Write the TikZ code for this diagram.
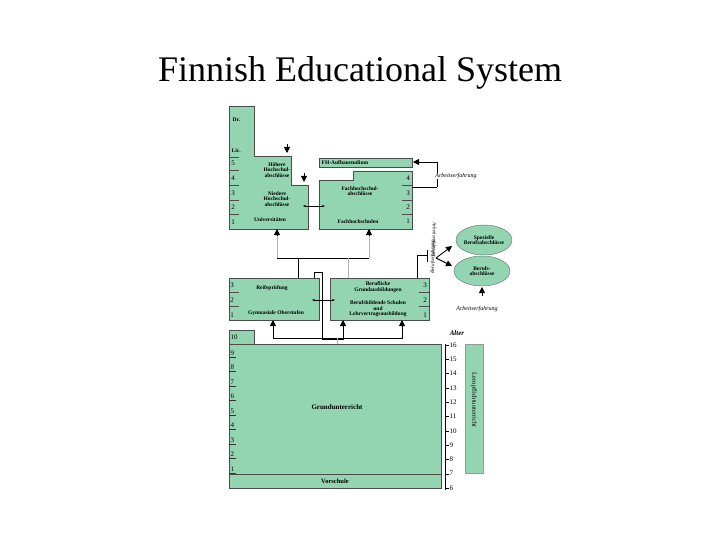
\documentclass[tikz,border=0pt]{standalone}
\usepackage{fontspec}
\setmainfont{Liberation Serif}
\usetikzlibrary{arrows.meta,shapes.geometric}
\definecolor{fin}{HTML}{93D5B0}
\begin{document}
\begin{tikzpicture}[x=1pt,y=-1pt,
  blk/.style={draw=black!70,fill=fin,line width=0.6pt},
  lbl/.style={font=\fontsize{5.5}{5.5}\selectfont\bfseries,align=center,inner sep=0.5pt},
  num/.style={font=\fontsize{7}{7}\selectfont,inner sep=0.5pt},
  itl/.style={font=\fontsize{6}{6}\selectfont\itshape,inner sep=0.5pt},
  ln/.style={line width=0.9pt},
  gl/.style={gray!60,line width=0.6pt},
  tip/.style={-{Triangle[length=6pt,width=6pt]},line width=0.9pt},
  dtip/.style={{Stealth[length=3pt]}-{Stealth[length=3pt]},line width=0.7pt}]
\useasboundingbox (0,0) rectangle (720,540);
\node (title) at (360,73) {\fontsize{36}{36}\selectfont Finnish Educational System};
% Universities
\draw[blk] (229,106)--(254,106)--(254,156)--(291,156)--(291,185)--(308,185)--(308,229)--(229,229)--cycle;
\node[lbl,anchor=west] (dr) at (232,120) {Dr.};
\node[lbl,anchor=west] (lic) at (231,151) {Lic.};
\foreach \n/\y in {5/163,4/178,3/193,2/207,1/222}{\node[num] at (233,\y) {\n};}
\foreach \y in {157,170,185,200,214}{\draw[black!70] (229,\y)--(239,\y);}
\node[lbl] (hoh) at (277,170) {Höhere\\Hochschul-\\abschlüsse};
\node[lbl] (nie) at (277,199) {Niedere\\Hochschul-\\abschlüsse};
\node[lbl] (uni) at (270,220) {Universitäten};
\node[lbl] (ta1) at (287,153) {}; \node[lbl] (ta2) at (304,182) {};
\draw[tip] (287,144)--(ta1.center);
\draw[tip] (304,173)--(ta2.center);
% FH
\draw[blk] (319,158) rectangle (412,167);
\node[lbl,anchor=west] (fha) at (321,162.5) {FH-Aufbaustudium};
\draw[blk] (319,180)--(353,180)--(353,171)--(412,171)--(412,229)--(319,229)--cycle;
\foreach \n/\y in {4/178,3/193,2/207,1/221}{\node[num] at (408,\y) {\n};}
\foreach \y in {185,200,214}{\draw[black!70] (402,\y)--(412,\y);}
\node[lbl] (fhs) at (360,191) {Fachhochschul-\\abschlüsse};
\node[lbl] (fhn) at (358,222) {Fachhochschulen};
\coordinate (b1) at (437,162); \coordinate (b2) at (437,187);
\draw[ln] (b2)--(412,187);
\draw[ln] (b2)--(b1);
\draw[tip] (b1)--(413,162);
\node[itl,fill=white] (ae1) at (456,176) {Arbeitserfahrung};
\draw[dtip] (303,206)--(325,206);
% arrows to higher ed
\coordinate (h1) at (277,258); \coordinate (h2) at (369,258);
\draw[gl] (h1)--(277,232); \draw[gl] (h2)--(369,232);
\draw[tip] (277,236)--(277,229);
\draw[tip] (369,236)--(369,229);
\draw[ln] (h1)--(h2);
\draw[ln] (298,258)--(298,278);
\draw[gl] (348,258)--(348,278);
% upper secondary
\draw[blk] (229,278) rectangle (319,320);
\node[lbl] (rei) at (272,288) {Reifeprüfung};
\node[lbl] (gym) at (276,313) {Gymnasiale Oberstufen};
\foreach \n/\y in {3/285,2/300,1/315}{\node[num] at (232,\y) {\n};}
\foreach \y in {292,306}{\draw[black!70] (229,\y)--(239,\y);}
\draw[blk] (330,278) rectangle (429,320);
\node[lbl] (ber) at (378,287) {Berufliche\\Grundausbildungen};
\node[lbl] (bbs) at (378,309) {Berufsbildende Schulen\\und\\Lehrvertragsausbildung};
\foreach \n/\y in {3/285,2/300,1/315}{\node[num] at (425,\y) {\n};}
\foreach \y in {292,306}{\draw[black!70] (419,\y)--(429,\y);}
\draw[dtip] (312,300)--(335,300);
\draw[line width=0.6pt] (314,278)--(314,272)--(322,272)--(322,339)--(343,339)--(343,328);
\draw[tip] (343,328)--(343,320);
\draw[ln] (273,328)--(273,338)--(402,338)--(402,328);
\draw[tip] (273,328)--(273,320);
\draw[tip] (402,328)--(402,320);
\draw[gl] (337,338)--(337,344);
% vocational
\draw[ln] (417,278)--(417,255)--(427,255);
\draw[ln] (427,250)--(427,262);
\node[ellipse,draw=black!60,fill=fin,minimum width=56pt,minimum height=30pt,inner sep=0pt] (spz) at (484,240) {};
\node[lbl] at (spz) {Spezielle\\Berufsabschlüsse};
\node[ellipse,draw=black!60,fill=fin,minimum width=56pt,minimum height=30pt,inner sep=0pt] (bab) at (482,271) {};
\node[lbl] at (bab) {Berufs-\\abschlüsse};
\coordinate (fork) at (436,258);
\draw[tip] (fork)--(452,246);
\draw[tip] (fork)--(452,266);
\node[itl,rotate=-90,font=\fontsize{5}{5}\selectfont\itshape] (ae2) at (434,240) {Arbeitserfahrung};
\node[itl,rotate=90,font=\fontsize{5}{5}\selectfont\itshape] (be) at (433,257) {Berufserfahrung};
\draw[tip] (482,296)--(482,287);
\node[itl] (ae3) at (477,309) {Arbeitserfahrung};
% basic
\draw[blk] (229,330) rectangle (254,344);
\node[num,anchor=west] at (230,337) {10};
\draw[blk] (229,344) rectangle (441,474);
\node[lbl,font=\fontsize{7}{7}\selectfont\bfseries] (gru) at (337,407) {Grundunterricht};
\draw[blk] (229,474) rectangle (441,488);
\node[lbl,font=\fontsize{6.5}{6.5}\selectfont\bfseries] (vor) at (335,481) {Vorschule};
\foreach \i in {1,...,9}{
  \pgfmathsetmacro\yy{469-(\i-1)*14.5}
  \node[num,anchor=west] at (230,\yy) {\i};
  \draw[black!80,line width=0.7pt] (229,\yy+4)--(236,\yy+4);}
% age axis
\draw[line width=0.6pt] (445,344)--(445,490);
\foreach \a in {6,...,16}{
  \pgfmathsetmacro\yy{488-(\a-6)*14.3}
  \draw (445,\yy)--(449,\yy);
  \node[num,anchor=west] at (449,\yy) {\a};}
\node[itl,font=\fontsize{7}{7}\selectfont\bfseries\itshape] (alt) at (457,333) {Alter};
\draw[blk,draw=black!40] (465,344) rectangle (483,473);
\node[lbl,rotate=-90,font=\fontsize{6.5}{6.5}\selectfont] (lern) at (474,400) {Lernpflichtunterricht};
\end{tikzpicture}
\end{document}
